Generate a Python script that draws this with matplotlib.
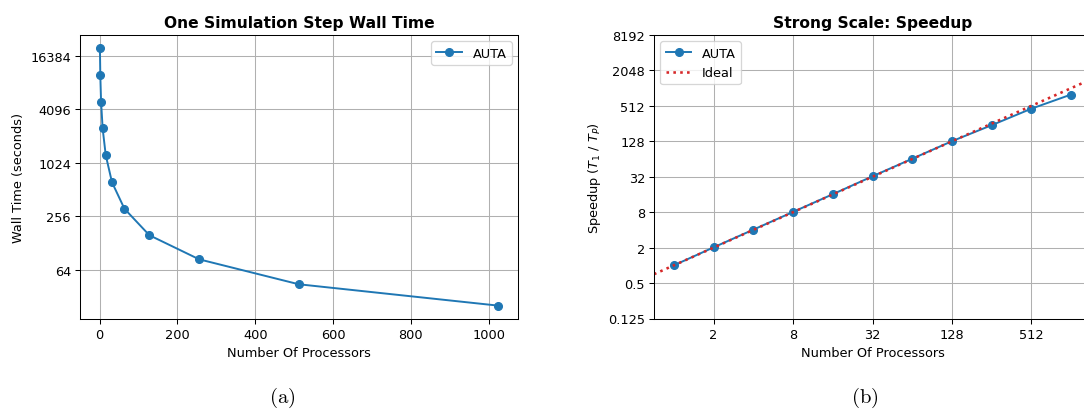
import numpy as np
import matplotlib
matplotlib.use("Agg")
import matplotlib.pyplot as plt
from matplotlib.ticker import FixedLocator, FuncFormatter, NullLocator

# Strong-scaling measurements: wall time of one simulation step
processors = [1, 2, 4, 8, 16, 32, 64, 128, 256, 512, 1024]
wall_time = [20200, 10000, 5000, 2500, 1250, 620, 312, 157, 84, 44, 25.3]

wall_yticks = [64, 256, 1024, 4096, 16384]
speedup_xticks = [2, 8, 32, 128, 512]
speedup_yticks = [0.125, 0.5, 2, 8, 32, 128, 512, 2048, 8192]

procs = np.array(processors, dtype=float)
times = np.array(wall_time, dtype=float)
speedup = times[0] / times

W, H = 1084, 412
DPI = 93
plt.rcParams["mathtext.fontset"] = "dejavusans"
fig = plt.figure(figsize=(W / DPI, H / DPI), dpi=DPI)

def px_rect(x0, y0, x1, y1):
    return [x0 / W, 1 - y1 / H, (x1 - x0) / W, (y1 - y0) / H]

fmt = FuncFormatter(lambda v, _: f"{v:g}")
blue = "#1f77b4"

# (a) wall time vs processors
ax1 = fig.add_axes(px_rect(80, 36, 518, 319.5))
ax1.plot(procs, times, marker="o", color=blue, label="AUTA")
ax1.set_yscale("log", base=2)
ax1.yaxis.set_major_locator(FixedLocator(wall_yticks))
ax1.yaxis.set_major_formatter(fmt)
ax1.yaxis.set_minor_locator(NullLocator())
ax1.set_title("One Simulation Step Wall Time", fontweight="bold")
ax1.set_xlabel("Number Of Processors")
ax1.set_ylabel("Wall Time (seconds)")
ax1.grid(True)
ax1.legend(loc="upper right")

# (b) speedup vs processors
ax2 = fig.add_axes(px_rect(654, 36, 1091, 319.5))
ax2.plot(procs, speedup, marker="o", color=blue, label="AUTA")
ax2.set_xscale("log", base=2)
ax2.set_yscale("log", base=2)
ax2.axline((1, 1), (2, 2), linestyle=":", color="tab:red", linewidth=2, label="Ideal")
ax2.set_ylim(speedup_yticks[0], speedup_yticks[-1])
ax2.xaxis.set_major_locator(FixedLocator(speedup_xticks))
ax2.yaxis.set_major_locator(FixedLocator(speedup_yticks))
ax2.xaxis.set_major_formatter(fmt)
ax2.yaxis.set_major_formatter(fmt)
ax2.xaxis.set_minor_locator(NullLocator())
ax2.yaxis.set_minor_locator(NullLocator())
ax2.set_title("Strong Scale: Speedup", fontweight="bold")
ax2.set_xlabel("Number Of Processors")
ax2.set_ylabel(r"Speedup ($T_1$ / $T_P$)")
ax2.grid(True)
ax2.legend(loc="upper left")

# sub-figure captions
cap = dict(ha="center", va="center", fontsize=16, family="DejaVu Serif",
           math_fontfamily="cm")
fig.text(282 / W, 1 - 398 / H, r"$\mathrm{(a)}$", **cap)
fig.text(865 / W, 1 - 398 / H, r"$\mathrm{(b)}$", **cap)

fig.savefig("out.png", dpi=DPI)
